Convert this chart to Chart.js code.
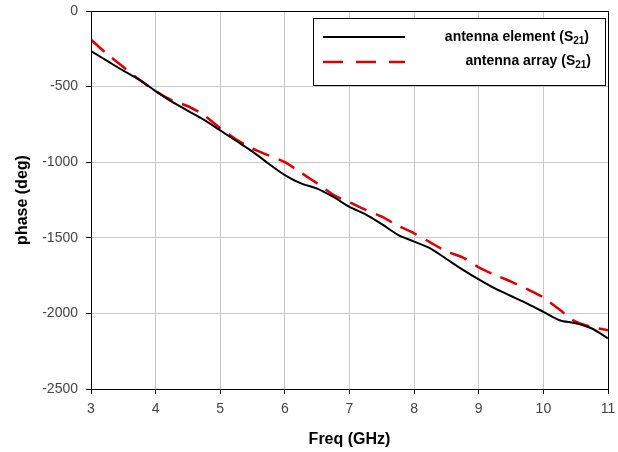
<!DOCTYPE html>
<html>
<head>
<meta charset="utf-8">
<script src="https://cdn.jsdelivr.net/npm/chart.js@4/dist/chart.umd.min.js"></script>
<style>
  html, body { margin: 0; padding: 0; background: #fff; }
  #wrap { width: 618px; height: 452px; position: relative; }
</style>
</head>
<body>
<div id="wrap"><canvas id="phase-chart"></canvas></div>
<script>
// frequency points (GHz)
const freqs = [
  3, 3.25, 3.5, 3.75, 4, 4.25, 4.5, 4.75, 5, 5.25, 5.5, 5.75, 6, 6.25, 6.5, 6.75,
  7, 7.25, 7.5, 7.75, 8, 8.25, 8.5, 8.75, 9, 9.25, 9.5, 9.75, 10, 10.25, 10.5, 10.75, 11,
];

// S21 phase of a single element (deg)
const elementPhase = [
  -265, -330, -395, -455, -530, -600, -660, -720, -790, -860, -930, -1010, -1085, -1140,
  -1175, -1230, -1295, -1345, -1410, -1480, -1525, -1570, -1640, -1710, -1775, -1835,
  -1885, -1935, -1990, -2045, -2065, -2100, -2165,
];

// S21 phase of the array (deg)
const arrayPhase = [
  -190, -285, -370, -455, -530, -590, -630, -690, -775, -850, -910, -955, -1000, -1070,
  -1140, -1215, -1265, -1315, -1360, -1420, -1470, -1530, -1590, -1630, -1695, -1745,
  -1790, -1840, -1895, -1975, -2055, -2090, -2112,
];

const xTicks = [3, 4, 5, 6, 7, 8, 9, 10, 11];
const yTicks = [0, -500, -1000, -1500, -2000, -2500];

const FONT = "'Liberation Sans', Arial, sans-serif";
const toPoints = (ys) => freqs.map((f, i) => ({ x: f, y: ys[i] }));

// box around the plot area plus the legend in the upper right
const framePlugin = {
  id: "frame",
  afterDraw(chart) {
    const { ctx, chartArea: a } = chart;
    ctx.save();
    ctx.strokeStyle = "#000";
    ctx.lineWidth = 1;
    ctx.strokeRect(a.left + 0.5, a.top + 0.5, a.right - a.left, a.bottom - a.top);

    // legend
    const lx = 313, ly = 18, lw = 292, lh = 67;
    ctx.fillStyle = "#fff";
    ctx.fillRect(lx, ly, lw, lh);
    ctx.strokeRect(lx + 0.5, ly + 0.5, lw, lh);

    ctx.lineWidth = 2;
    ctx.strokeStyle = "#000";
    ctx.beginPath();
    ctx.moveTo(323, 37);
    ctx.lineTo(405, 37);
    ctx.stroke();

    ctx.strokeStyle = "#e00000";
    ctx.lineWidth = 2.5;
    ctx.setLineDash([20, 13]);
    ctx.beginPath();
    ctx.moveTo(323, 62);
    ctx.lineTo(405, 62);
    ctx.stroke();
    ctx.setLineDash([]);

    ctx.fillStyle = "#000";
    ctx.textBaseline = "middle";
    ctx.textAlign = "right";
    const big = "bold 14px " + FONT, small = "bold 10px " + FONT;
    const drawLabel = (main, y, right) => {
      ctx.font = big;
      const w1 = ctx.measureText(")").width;
      ctx.font = small;
      const w2 = ctx.measureText("21").width;
      ctx.font = big;
      ctx.fillText(")", right, y);
      ctx.font = small;
      ctx.fillText("21", right - w1, y + 4);
      ctx.font = big;
      ctx.fillText(main + " (S", right - w1 - w2, y);
    };
    drawLabel("antenna element", 37, 589);
    drawLabel("antenna array", 61, 591);
    ctx.restore();
  },
};

new Chart(document.getElementById("phase-chart"), {
  type: "line",
  data: {
    datasets: [
      {
        label: "antenna element (S21)",
        data: toPoints(elementPhase),
        borderColor: "#000",
        borderWidth: 2,
        pointRadius: 0,
        tension: 0.3,
        fill: false,
      },
      {
        label: "antenna array (S21)",
        data: toPoints(arrayPhase),
        borderColor: "#e00000",
        borderWidth: 2.5,
        borderDash: [18, 10],
        pointRadius: 0,
        tension: 0.3,
        fill: false,
      },
    ],
  },
  options: {
    responsive: true,
    maintainAspectRatio: false,
    animation: false,
    layout: { padding: { top: 11, right: 10, left: 0, bottom: 0 } },
    plugins: {
      legend: { display: false },
      tooltip: { enabled: false },
    },
    scales: {
      x: {
        type: "linear",
        min: 3,
        max: 11,
        afterBuildTicks: (s) => { s.ticks = xTicks.map((v) => ({ value: v })); },
        afterFit: (s) => {
          s.height = 63;
          s.paddingLeft = 0;
          s.paddingRight = 0;
        },
        grid: { color: "#c8c8c8", tickColor: "#000", tickLength: 5 },
        border: { color: "#000", width: 1 },
        ticks: {
          color: "#444",
          font: { family: FONT, size: 14 },
          padding: 7,
          maxRotation: 0,
          callback: (v) => String(v),
        },
        title: {
          display: true,
          text: "Freq (GHz)",
          color: "#000",
          font: { family: FONT, size: 16, weight: "bold" },
          padding: { top: 0, bottom: 3 },
        },
      },
      y: {
        min: -2500,
        max: 0,
        afterBuildTicks: (s) => { s.ticks = yTicks.map((v) => ({ value: v })); },
        afterFit: (s) => {
          s.width = 91;
          s.paddingTop = 0;
          s.paddingBottom = 0;
        },
        grid: { color: "#c8c8c8", tickColor: "#000", tickLength: 5 },
        border: { color: "#000", width: 1 },
        ticks: {
          color: "#444",
          font: { family: FONT, size: 14 },
          padding: 8,
          callback: (v) => String(v),
        },
        title: {
          display: true,
          text: "phase (deg)",
          color: "#000",
          font: { family: FONT, size: 16, weight: "bold" },
          padding: { top: 13, bottom: 0 },
        },
      },
    },
  },
  plugins: [framePlugin],
});
</script>
</body>
</html>
